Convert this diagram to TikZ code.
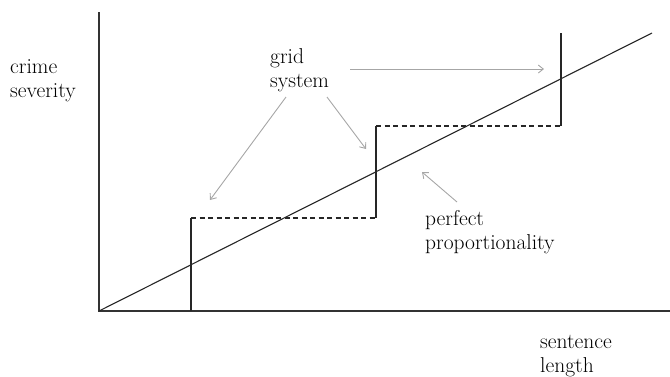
\documentclass[tikz,border=0pt]{standalone}
\usetikzlibrary{arrows.meta}
\begin{document}
\begin{tikzpicture}[x=1pt,y=-1pt,
  axis/.style={line width=1.4pt,draw=black!80},
  curve/.style={line width=1.1pt,draw=black!85},
  stepline/.style={line width=1.3pt,draw=black!85},
  dashline/.style={line width=1.3pt,draw=black!85,dash pattern=on 5pt off 3.5pt},
  pointer/.style={line width=0.9pt,draw=black!35,-{Straight Barb[length=5pt,width=8pt]}},
  lab/.style={font=\fontsize{21.5}{24}\selectfont,align=left,anchor=base west,inner sep=0pt,text=black}]
\useasboundingbox (0,0) rectangle (670,376);
% axes
\coordinate (O) at (99,311);
\coordinate (ytop) at (99,12);
\coordinate (xend) at (670,311);
\draw[axis] (ytop) -- (O) -- (xend);
% diagonal
\coordinate (dend) at (652,33);
\draw[curve] (O) -- (dend);
% steps
\coordinate (s0) at (191,311);
\coordinate (s1) at (191,218);
\coordinate (s2) at (376,218);
\coordinate (s3) at (376,126);
\coordinate (s4) at (561,126);
\coordinate (s5) at (561,33);
\draw[stepline] (s0) -- (s1);
\draw[dashline] (s1) -- (s2);
\draw[stepline] (s2) -- (s3);
\draw[dashline] (s3) -- (s4);
\draw[stepline] (s4) -- (s5);
% labels (anchor = baseline of the last line)
\node[lab] (crime) at (10,97) {crime\\severity};
\node[lab] (grid) at (270,87) {grid\\system};
\node[lab] (perfect) at (425,249) {perfect\\proportionality};
\node[lab] (sentence) at (540,372) {sentence\\length};
% pointers
\coordinate (g1) at (286,97);
\coordinate (g1e) at (210,200);
\coordinate (g2) at (327,97);
\coordinate (g2e) at (366,149);
\coordinate (g3) at (350,69);
\coordinate (g3e) at (544,69);
\coordinate (p1) at (457,202);
\coordinate (p1e) at (422,172);
\draw[pointer] (g1) -- (g1e);
\draw[pointer] (g2) -- (g2e);
\draw[pointer] (g3) -- (g3e);
\draw[pointer] (p1) -- (p1e);
\end{tikzpicture}
\end{document}
